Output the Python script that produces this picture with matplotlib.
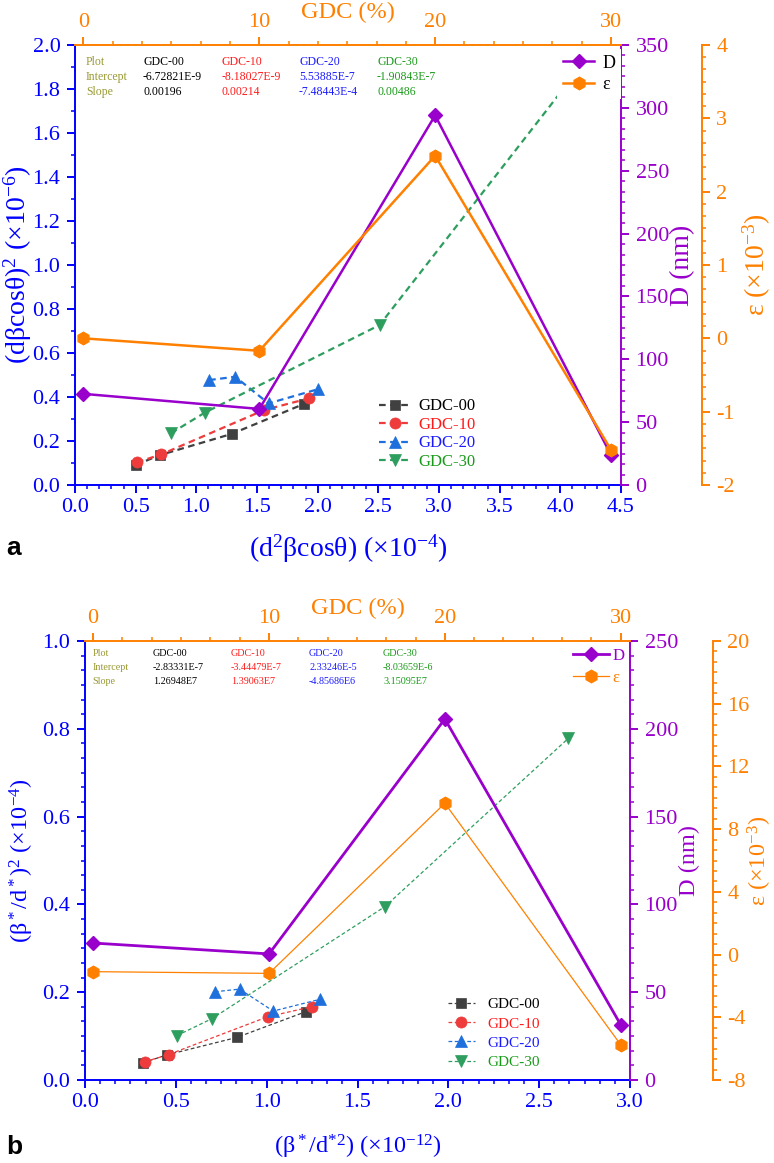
import matplotlib
matplotlib.use("Agg")
import matplotlib.pyplot as plt
from matplotlib.ticker import MultipleLocator, AutoMinorLocator

plt.rcParams['font.family'] = ['Liberation Serif', 'DejaVu Serif']
plt.rcParams['mathtext.fontset'] = 'custom'
plt.rcParams['mathtext.rm'] = 'Liberation Serif'
plt.rcParams['mathtext.it'] = 'Liberation Serif:italic'
plt.rcParams['mathtext.bf'] = 'Liberation Serif:bold'
plt.rcParams['axes.unicode_minus'] = False

W, H = 774, 1163

BLUE = '#0000FF'
ORANGE = '#FF8000'
PURPLE = '#9900CC'
OLIVE = '#999933'

# series shared by both panels
names = ['GDC-00', 'GDC-10', 'GDC-20', 'GDC-30']
markers = ['s', 'o', '^', 'v']
colors = ['#404040', '#EE3B3B', '#1F6FDC', '#2E9E5E']
text_colors = ['#000000', '#FF1A1A', '#1A1AFF', '#1A9A1A']
gdc = [0, 10, 20, 30]

# panel a data
a_x00 = [0.50, 0.70, 1.29, 1.885]
a_y00 = [0.091, 0.136, 0.232, 0.368]
a_x10 = [0.51, 0.71, 1.56, 1.93]
a_y10 = [0.103, 0.139, 0.341, 0.394]
a_x20 = [1.105, 1.32, 1.595, 2.00]
a_y20 = [0.477, 0.492, 0.371, 0.435]
a_x30 = [0.79, 1.07, 2.51, 4.08]
a_y30 = [0.235, 0.329, 0.727, 1.84]
a_D = [72.5, 60.5, 294, 24]
a_eps = [0.0, -0.17, 2.49, -1.52]
a_intercept = ['-6.72821E-9', '-8.18027E-9', '5.53885E-7', '-1.90843E-7']
a_slope = ['0.00196', '0.00214', '-7.48443E-4', '0.00486']

# panel b data
b_x00 = [0.318, 0.449, 0.836, 1.218]
b_y00 = [0.039, 0.057, 0.097, 0.156]
b_x10 = [0.333, 0.460, 1.005, 1.249]
b_y10 = [0.042, 0.058, 0.144, 0.167]
b_x20 = [0.715, 0.851, 1.036, 1.295]
b_y20 = [0.201, 0.207, 0.157, 0.184]
b_x30 = [0.505, 0.70, 1.651, 2.66]
b_y30 = [0.101, 0.140, 0.395, 0.778]
b_D = [78, 71.8, 205.6, 31.5]
b_eps = [-1.09, -1.20, 9.65, -5.75]
b_intercept = ['-2.83331E-7', '-3.44479E-7', '2.33246E-5', '-8.03659E-6']
b_slope = ['1.26948E7', '1.39063E7', '-4.85686E6', '3.15095E7']

fig = plt.figure(figsize=(W / 100, H / 100), dpi=100)


def pix_rect(l, t, r, b):
    return [l / W, 1 - b / H, (r - l) / W, (b - t) / H]


def make_axes(rect, eps_offset, tag):
    ax = fig.add_axes(rect, label=tag + 'main')
    axD = fig.add_axes(rect, facecolor='none', label=tag + 'D')
    axE = fig.add_axes(rect, facecolor='none', label=tag + 'eps', sharex=axD)
    for s in ['top', 'right']:
        ax.spines[s].set_visible(False)
    for s in ['left', 'bottom']:
        ax.spines[s].set_color(BLUE)
        axD.spines[s].set_visible(False)
    axD.spines['top'].set_color(ORANGE)
    axD.spines['right'].set_color(PURPLE)
    for s in ['left', 'bottom', 'top']:
        axE.spines[s].set_visible(False)
    axE.spines['right'].set_position(('axes', eps_offset))
    axE.spines['right'].set_color(ORANGE)
    for a in (ax, axD, axE):
        for sp in a.spines.values():
            sp.set_linewidth(1.4)
    axD.xaxis.tick_top()
    axD.xaxis.set_label_position('top')
    axD.yaxis.tick_right()
    axD.yaxis.set_label_position('right')
    axE.yaxis.tick_right()
    axE.yaxis.set_label_position('right')
    axE.xaxis.set_visible(False)
    ax.tick_params(axis='both', which='both', colors=BLUE)
    axD.tick_params(axis='x', which='both', colors=ORANGE)
    axD.tick_params(axis='y', which='both', colors=PURPLE)
    axE.tick_params(axis='y', which='both', colors=ORANGE)
    for a in (ax, axD, axE):
        a.tick_params(which='major', direction='out', length=5.5, width=1.4, labelsize=16)
        a.tick_params(which='minor', direction='out', length=3, width=1.1)
        a.tick_params(axis='x', pad=4)
        a.tick_params(axis='y', pad=5)
    ax.set_zorder(1)
    axD.set_zorder(2)
    axE.set_zorder(3)
    return ax, axD, axE


def set_labels(ax, axD, axE, xlabel, ylabel, pos, fs):
    ax.set_xlabel(xlabel, fontsize=fs, color=BLUE, va='center')
    ax.set_ylabel(ylabel, fontsize=fs, color=BLUE, va='center')
    axD.set_xlabel('GDC (%)', fontsize=17.5, color=ORANGE, va='center')
    axD.set_ylabel('D (nm)', fontsize=fs, color=PURPLE, va='center')
    axE.set_ylabel(r'ε (×10$^{-3}$)', fontsize=fs, color=ORANGE, va='center')
    ax.xaxis.set_label_coords(0.5, pos[0])
    ax.yaxis.set_label_coords(pos[1], 0.5)
    axD.xaxis.set_label_coords(0.5, pos[2])
    axD.yaxis.set_label_coords(pos[3], 0.5)
    axE.yaxis.set_label_coords(pos[4], 0.5)


def fit_table(xs, ys, fs, intercepts, slopes):
    rows = [('Plot', names), ('Intercept', intercepts), ('Slope', slopes)]
    for (head, vals), y in zip(rows, ys):
        fig.text(xs[0] / W, 1 - y / H, head, fontsize=fs, color=OLIVE, va='center')
        for v, x, c in zip(vals, xs[1:], text_colors):
            fig.text(x / W, 1 - y / H, v, fontsize=fs, color=c, va='center')


# ---------------- panel a ----------------
ax, axD, axE = make_axes(pix_rect(75, 45, 621, 485), 1.148, 'a')
a_xs = [a_x00, a_x10, a_x20, a_x30]
a_ys = [a_y00, a_y10, a_y20, a_y30]
for x, y, n, m, c in zip(a_xs, a_ys, names, markers, colors):
    ax.plot(x, y, ls='--', dashes=(3, 2), lw=1.6, color=c, marker=m, ms=8 if m != 's' else 7,
            mec=c, mew=0.5, label=n)
ax.set_xlim(0, 4.5)
ax.set_ylim(0, 2.0)
ax.xaxis.set_major_locator(MultipleLocator(0.5))
ax.xaxis.set_minor_locator(AutoMinorLocator(5))
ax.yaxis.set_major_locator(MultipleLocator(0.2))
ax.yaxis.set_minor_locator(AutoMinorLocator(2))

lD, = axD.plot(gdc, a_D, color=PURPLE, lw=1.8, marker='D', ms=7.5, label='D')
lE, = axE.plot(gdc, a_eps, color=ORANGE, lw=1.8, marker='h', ms=9, label='ε')
axD.set_xlim(-0.483, 30.57)
axD.set_ylim(0, 350)
axE.set_ylim(-2, 4)
axD.xaxis.set_major_locator(MultipleLocator(10))
axD.xaxis.set_minor_locator(AutoMinorLocator(6))
axD.yaxis.set_major_locator(MultipleLocator(50))
axD.yaxis.set_minor_locator(AutoMinorLocator(6))
axE.yaxis.set_major_locator(MultipleLocator(1))
axE.yaxis.set_minor_locator(AutoMinorLocator(6))

set_labels(ax, axD, axE, r'(d$^2$βcosθ) (×10$^{-4}$)', r'(dβcosθ)$^2$ (×10$^{-6}$)',
           [-0.1455, -0.104, 1.075, 1.1136, 1.249], 20)

leg = ax.legend(loc='upper left', bbox_to_anchor=(0.5421, 0.2159), frameon=False, fontsize=12,
                borderpad=0, handlelength=1.86, handletextpad=0.5, labelspacing=0.15)
for t, c in zip(leg.get_texts(), text_colors):
    t.set_color(c)
leg2 = axE.legend([lD, lE], ['D', 'ε'], loc='upper left', bbox_to_anchor=(0.8668, 1.0107),
                  frameon=True, fancybox=False, edgecolor='none', facecolor='white', framealpha=1,
                  fontsize=13, borderpad=0.3, handlelength=1.75, handletextpad=0.45, labelspacing=0.26)

fit_table([86, 143, 222, 299, 377], [61.7, 76.7, 92], 8.5, a_intercept, a_slope)

# ---------------- panel b ----------------
bx, bxD, bxE = make_axes(pix_rect(85, 641, 630, 1080), 1.152, 'b')
b_xs = [b_x00, b_x10, b_x20, b_x30]
b_ys = [b_y00, b_y10, b_y20, b_y30]
for x, y, n, m, c in zip(b_xs, b_ys, names, markers, colors):
    bx.plot(x, y, ls='--', dashes=(3, 2), lw=0.9, color=c, marker=m, ms=8 if m != 's' else 7,
            mec=c, mew=0.5, label=n)
bx.set_xlim(0, 3.0)
bx.set_ylim(0, 1.0)
bx.xaxis.set_major_locator(MultipleLocator(0.5))
bx.xaxis.set_minor_locator(AutoMinorLocator(6))
bx.yaxis.set_major_locator(MultipleLocator(0.2))
bx.yaxis.set_minor_locator(AutoMinorLocator(6))

mD, = bxD.plot(gdc, b_D, color=PURPLE, lw=2.0, marker='D', ms=7.5, label='D')
mE, = bxE.plot(gdc, b_eps, color=ORANGE, lw=0.9, marker='h', ms=9, label='ε')
bxD.set_xlim(-0.465, 30.53)
bxD.set_ylim(0, 250)
bxE.set_ylim(-8, 20)
bxD.xaxis.set_major_locator(MultipleLocator(10))
bxD.xaxis.set_minor_locator(AutoMinorLocator(6))
bxD.yaxis.set_major_locator(MultipleLocator(50))
bxD.yaxis.set_minor_locator(AutoMinorLocator(6))
bxE.yaxis.set_major_locator(MultipleLocator(4))
bxE.yaxis.set_minor_locator(AutoMinorLocator(6))

set_labels(bx, bxD, bxE, r'(β$^*$/d$^{*2}$) (×10$^{-12}$)', r'(β$^*$/d$^*$)$^2$ (×10$^{-4}$)',
           [-0.153, -0.1156, 1.073, 1.110, 1.2385], 17.5)

leg = bx.legend(loc='upper left', bbox_to_anchor=(0.6513, 0.205), frameon=False, fontsize=11,
                borderpad=0, handlelength=1.8, handletextpad=0.8, labelspacing=0.36)
for t, c in zip(leg.get_texts(), text_colors):
    t.set_color(c)
leg2 = bxE.legend([mD, mE], ['D', 'ε'], loc='upper left', bbox_to_anchor=(0.8795, 1.0037),
                  frameon=False, fontsize=12, borderpad=0, handlelength=2.2, handletextpad=0.2,
                  labelspacing=0.36)
leg2.get_texts()[0].set_color(PURPLE)
leg2.get_texts()[1].set_color(ORANGE)

fit_table([92.7, 153, 231, 309, 383], [654, 668, 682], 7.3, b_intercept, b_slope)

# panel letters
fig.text(6 / W, 1 - 548 / H, 'a', fontsize=19, fontweight='bold', family='Liberation Sans', va='center')
fig.text(6 / W, 1 - 1147 / H, 'b', fontsize=19, fontweight='bold', family='Liberation Sans', va='center')

fig.savefig('out.png', dpi=100)
